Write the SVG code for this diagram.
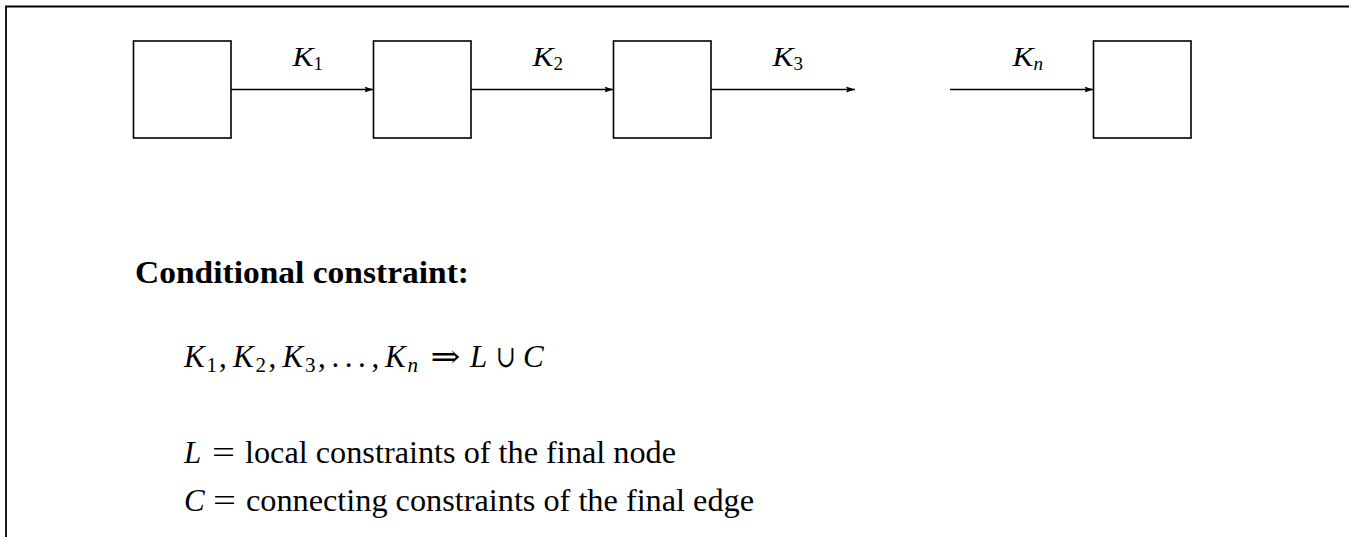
<svg xmlns="http://www.w3.org/2000/svg" width="1349" height="537" viewBox="0 0 1349 537">
<style>
  .box{fill:#fff;stroke:#000;stroke-width:1.6}
  .edge{fill:none;stroke:#000;stroke-width:1.4}
  .frame{fill:none;stroke:#000;stroke-width:1.8}
  text{font-family:"Liberation Serif","DejaVu Serif",serif;fill:#000}
  .m{font-size:31px}
  .it{font-style:italic}
  .sub{font-size:21px}
  .lab{font-size:27px}
  .lsub{font-size:19px}
  .b{font-weight:bold;font-size:31px}
</style>
<defs>
  <marker id="ah" markerUnits="userSpaceOnUse" markerWidth="10" markerHeight="8" refX="9" refY="3.5" orient="auto">
    <path d="M0,0.5 L9,3.5 L0,6.5 L1.5,3.5 z" fill="#000"/>
  </marker>
</defs>
<rect width="1349" height="537" fill="#fff"/>
<path class="frame" d="M6,537 V6.5 H1349"/>
<g id="node1"><rect class="box" x="133.5" y="41" width="97.5" height="97"/></g>
<g id="node2"><rect class="box" x="373.5" y="41" width="97.5" height="97"/></g>
<g id="node3"><rect class="box" x="613.5" y="41" width="97.5" height="97"/></g>
<g id="node4"><rect class="box" x="1093.5" y="41" width="97.5" height="97"/></g>
<g id="connectors">
  <line class="edge" x1="231" y1="89.5" x2="373.5" y2="89.5" marker-end="url(#ah)"/>
  <line class="edge" x1="471" y1="89.5" x2="613.5" y2="89.5" marker-end="url(#ah)"/>
  <line class="edge" x1="711" y1="89.5" x2="855" y2="89.5" marker-end="url(#ah)"/>
  <line class="edge" x1="950" y1="89.5" x2="1093.5" y2="89.5" marker-end="url(#ah)"/>
  <text class="lab"><tspan class="it" x="292.5" y="66" textLength="21" lengthAdjust="spacingAndGlyphs">K</tspan><tspan class="lsub" x="313.5" y="70">1</tspan></text>
  <text class="lab"><tspan class="it" x="532.5" y="66" textLength="21" lengthAdjust="spacingAndGlyphs">K</tspan><tspan class="lsub" x="553.5" y="70">2</tspan></text>
  <text class="lab"><tspan class="it" x="772.5" y="66" textLength="21" lengthAdjust="spacingAndGlyphs">K</tspan><tspan class="lsub" x="793.5" y="70">3</tspan></text>
  <text class="lab"><tspan class="it" x="1012.5" y="66" textLength="21" lengthAdjust="spacingAndGlyphs">K</tspan><tspan class="lsub it" x="1033.5" y="70">n</tspan></text>
</g>
<g id="notes">
  <text class="b" x="135" y="283" textLength="334" lengthAdjust="spacingAndGlyphs">Conditional constraint:</text>
  <text class="m">
    <tspan class="it" x="184" y="367">K</tspan><tspan class="sub" x="206.5" y="371.5">1</tspan><tspan x="219" y="367">,</tspan>
    <tspan class="it" x="233" y="367">K</tspan><tspan class="sub" x="255.5" y="371.5">2</tspan><tspan x="268.5" y="367">,</tspan>
    <tspan class="it" x="282.5" y="367">K</tspan><tspan class="sub" x="305" y="371.5">3</tspan><tspan x="318" y="367">,</tspan>
    <tspan x="331.5" y="367">.</tspan><tspan x="344.8" y="367">.</tspan><tspan x="358.1" y="367">.</tspan><tspan x="371.5" y="367">,</tspan>
    <tspan class="it" x="385" y="367">K</tspan><tspan class="sub it" x="407.5" y="371.5">n</tspan>
  </text>
  <text class="m" x="430.5" y="367" textLength="30" lengthAdjust="spacingAndGlyphs">⇒</text>
  <text class="m it" x="470" y="367">L</text>
  <text class="m" x="496" y="367" textLength="20" lengthAdjust="spacingAndGlyphs">∪</text>
  <text class="m it" x="523" y="367">C</text>

  <text class="m it" x="184" y="463">L</text>
  <text class="m" x="212" y="463" textLength="23" lengthAdjust="spacingAndGlyphs">=</text>
  <text class="m" x="245" y="463" textLength="431" lengthAdjust="spacingAndGlyphs">local constraints of the final node</text>

  <text class="m it" x="184" y="511">C</text>
  <text class="m" x="213" y="511" textLength="23" lengthAdjust="spacingAndGlyphs">=</text>
  <text class="m" x="246" y="511" textLength="508" lengthAdjust="spacingAndGlyphs">connecting constraints of the final edge</text>
</g>
</svg>
